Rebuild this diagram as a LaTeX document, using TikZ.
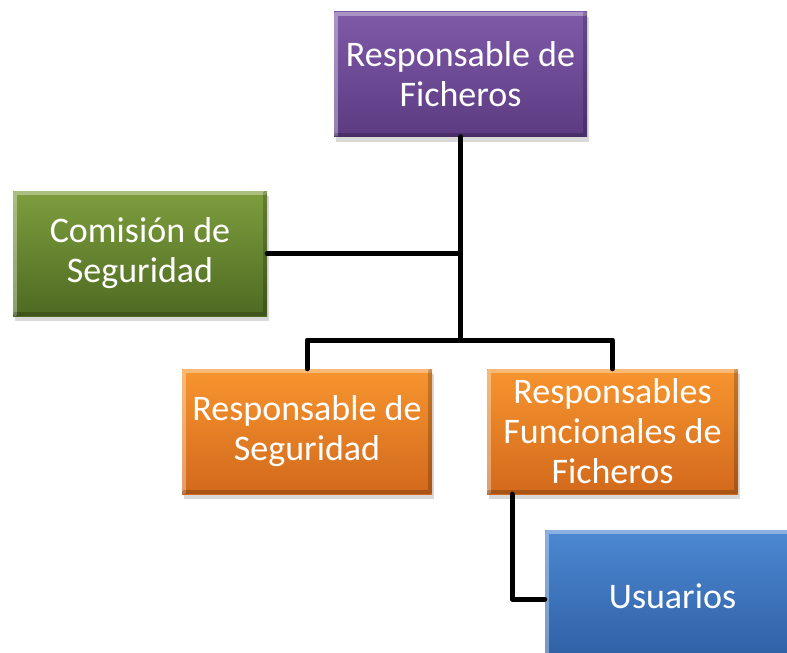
\documentclass[tikz,border=0pt]{standalone}
\usepackage{fontspec}
\setmainfont{Carlito}
\usepackage{tikz}
\usetikzlibrary{shadows}

\definecolor{purpTop}{HTML}{7F5AA8}
\definecolor{purpBot}{HTML}{5C3B82}
\definecolor{greenTop}{HTML}{7E9E3E}
\definecolor{greenBot}{HTML}{4E6A22}
\definecolor{orngTop}{HTML}{F7952F}
\definecolor{orngBot}{HTML}{D2691C}
\definecolor{blueTop}{HTML}{4C88D2}
\definecolor{blueBot}{HTML}{2E5FA4}

\begin{document}
\begin{tikzpicture}[x=1pt,y=-1pt,line cap=round,line join=round,
  box/.style={rectangle,minimum height=125pt,inner sep=0pt,align=center,
    text=white,font=\fontsize{36}{40}\selectfont,
    drop shadow={shadow xshift=2pt,shadow yshift=-5pt,opacity=0.3},
    path picture={
      \draw[white,opacity=0.35,line width=4pt]
        ([shift={(2pt,2pt)}]path picture bounding box.south west)
        |- ([shift={(-2pt,-2pt)}]path picture bounding box.north east);
      \draw[black,opacity=0.2,line width=4pt]
        ([shift={(2pt,2pt)}]path picture bounding box.south west)
        -| ([shift={(-2pt,-2pt)}]path picture bounding box.north east);}},
  purpbox/.style={box,top color=purpTop,bottom color=purpBot},
  greenbox/.style={box,top color=greenTop,bottom color=greenBot},
  orngbox/.style={box,top color=orngTop,bottom color=orngBot},
  bluebox/.style={box,top color=blueTop,bottom color=blueBot},
  conn/.style={line width=5pt,black}]
\useasboundingbox (0,0) rectangle (787,653);
\clip (0,0) rectangle (787,653);
% boxes
\node[purpbox,minimum width=253pt] (fich) at (460.5,74) {Responsable de\\Ficheros};
\node[greenbox,minimum width=254pt] (comision) at (140,253.5) {Comisión de\\Seguridad};
\node[orngbox,minimum width=250pt] (rseg) at (307,431.5) {Responsable de\\Seguridad};
\node[orngbox,minimum width=251pt] (rfunc) at (612.5,431.5) {Responsables\\Funcionales de\\Ficheros};
\node[bluebox,minimum width=255pt,minimum height=132pt] (usu) at (672.5,596) {Usuarios};
% connectors
\coordinate (bus) at (460.5,340);
\draw[conn] (fich.south) -- (bus);
\draw[conn] (comision.east) -- (comision.east -| bus);
\draw[conn] (rseg.north) |- (bus) -| (rfunc.north);
\draw[conn] ([xshift=-100.5pt]rfunc.south) |- ([yshift=-3pt]usu.west);
\end{tikzpicture}
\end{document}
